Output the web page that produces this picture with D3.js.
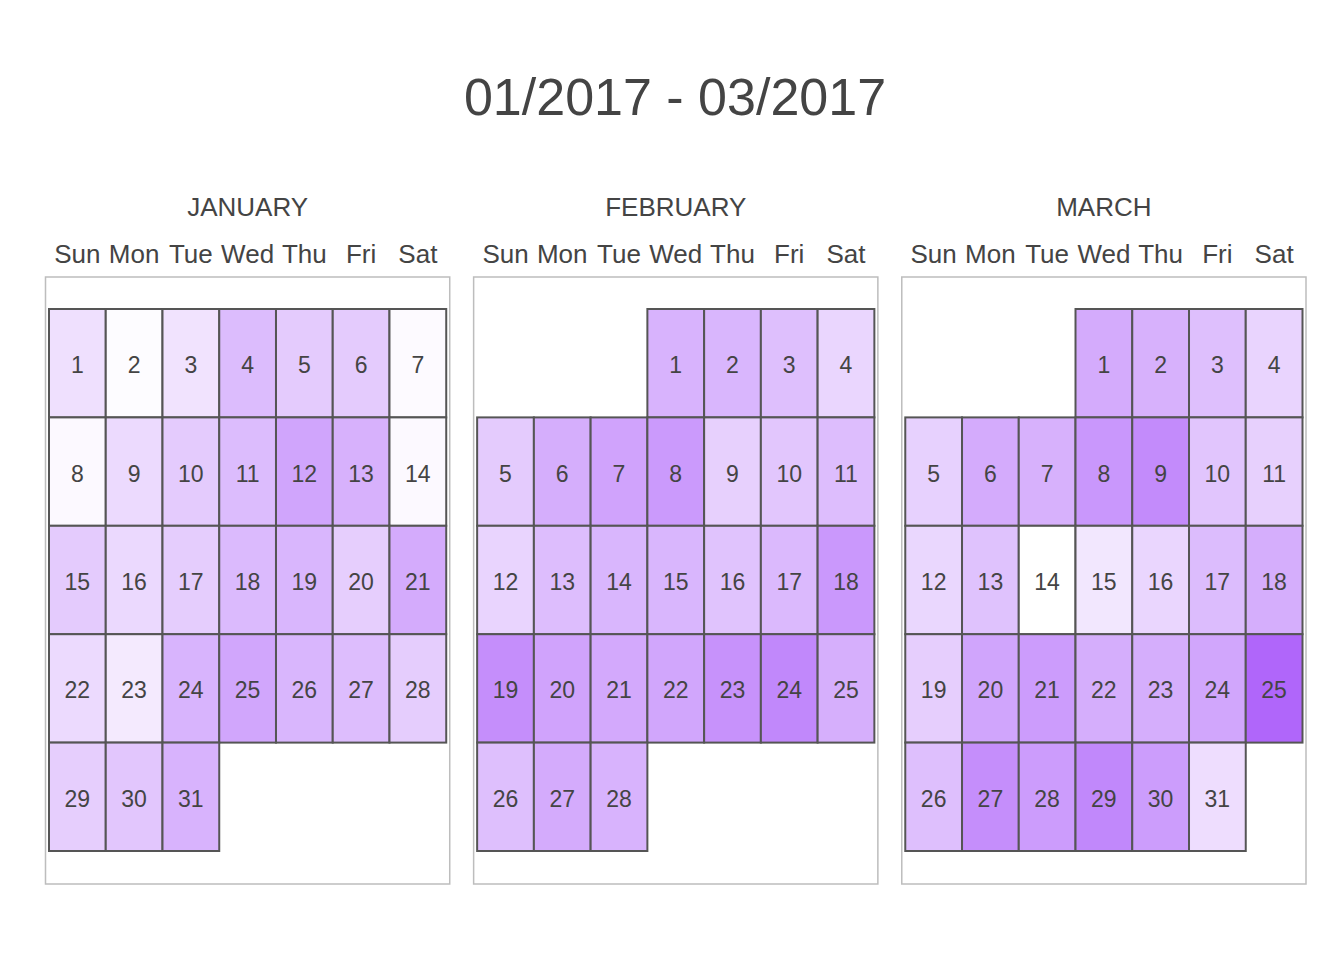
<!DOCTYPE html>
<html><head><meta charset="utf-8">
<script src="https://cdn.jsdelivr.net/npm/d3@7"></script>
<style>body{margin:0;background:#fff}svg{display:block}text{font-family:"Liberation Sans",Arial,sans-serif;fill:#444}</style>
</head><body>
<svg id="c" width="1344" height="960"></svg>
<script>
const title = "01/2017 - 03/2017";
const monthNames = ["JANUARY", "FEBRUARY", "MARCH"];
const weekdays = ["Sun", "Mon", "Tue", "Wed", "Thu", "Fri", "Sat"];
const janValues = [20,2,18,44,34,34,3,4,24,34,44,59,51,4,34,25,33,45,48,32,55,24,14,49,58,48,43,33,32,37,50];
const febValues = [50,48,42,27,34,53,60,66,31,37,43,28,43,48,48,39,46,67,74,60,56,58,71,78,52,42,55,50];
const marValues = [55,51,42,28,30,55,51,68,76,38,31,26,40,0,16,27,44,53,32,59,65,53,53,58,100,42,74,65,78,64,22];
const monthValues = [janValues, febValues, marValues];
const year = 2017;

const svg = d3.select("#c");
const color = d3.scaleLinear().domain([0, 100]).range(["#ffffff", "#b066fa"]);

svg.append("text").attr("x", 675).attr("y", 115).attr("text-anchor", "middle")
  .style("font-size", "52px").text(title);

const panelX = d3.scaleBand().domain([0,1,2]).range([45, 1306.5]).paddingInner(0.0535);
const panelTop = 277, panelBottom = 884;

monthValues.forEach((vals, m) => {
  const px = panelX(m), pw = panelX.bandwidth();
  const g = svg.append("g");
  g.append("rect").attr("x", px + 0.5).attr("y", panelTop).attr("width", pw - 1).attr("height", panelBottom - panelTop)
    .attr("fill", "none").attr("stroke", "#bdbdbd").attr("stroke-width", 1.5);
  const x = d3.scaleBand().domain(d3.range(7)).range([px + 4, px + pw - 4]);
  const y = d3.scaleBand().domain(d3.range(5)).range([309, 851]);
  g.append("text").attr("x", px + pw / 2).attr("y", 216).attr("text-anchor", "middle")
    .style("font-size", "26px").text(monthNames[m]);
  g.selectAll("text.wd").data(weekdays).join("text").attr("class", "wd")
    .attr("x", (d, i) => x(i) + x.bandwidth() / 2).attr("y", 263).attr("text-anchor", "middle")
    .style("font-size", "26px").text(d => d);
  const first = new Date(year, m, 1);
  const firstWeek = d3.timeWeek.floor(first);
  const days = vals.map((v, i) => {
    const dt = new Date(year, m, i + 1);
    return { day: i + 1, v, dow: dt.getDay(), week: d3.timeWeek.count(firstWeek, dt) };
  });
  const cells = g.selectAll("g.cell").data(days).join("g").attr("class", "cell");
  cells.append("rect").attr("x", d => x(d.dow)).attr("y", d => y(d.week))
    .attr("width", x.bandwidth()).attr("height", y.bandwidth())
    .attr("fill", d => color(d.v)).attr("stroke", "#555").attr("stroke-width", 2);
  cells.append("text").attr("x", d => x(d.dow) + x.bandwidth() / 2).attr("y", d => y(d.week) + y.bandwidth() / 2 + 10)
    .attr("text-anchor", "middle").style("font-size", "23px").text(d => d.day);
});
</script>
</body></html>
